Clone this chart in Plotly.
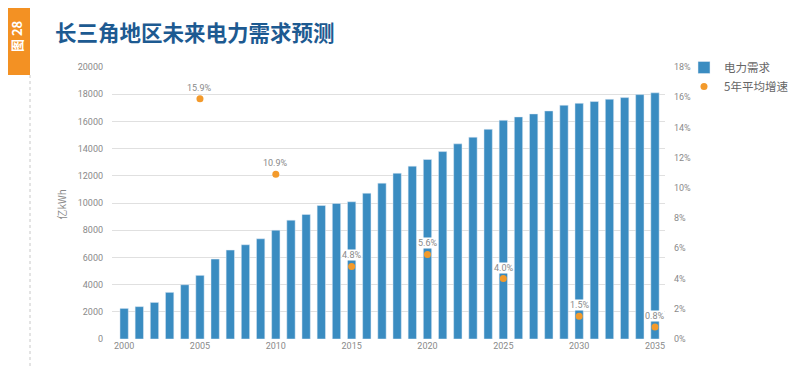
import plotly.graph_objects as go

years = list(range(2000, 2036))
demand = [2250, 2380, 2690, 3430, 3990, 4680, 5880, 6540, 6930, 7370,
          8000, 8740, 9160, 9820, 9970, 10090, 10720, 11460, 12190, 12710,
          13200, 13780, 14350, 14840, 15420, 16080, 16330, 16550, 16770, 17190,
          17330, 17460, 17630, 17750, 17970, 18100]
growth_years = [2005, 2010, 2015, 2020, 2025, 2030, 2035]
growth = [15.9, 10.9, 4.8, 5.6, 4.0, 1.5, 0.8]
growth_labels = ["15.9%", "10.9%", "4.8%", "5.6%", "4.0%", "1.5%", "0.8%"]

BLUE = "#3a8cc1"
ORANGE = "#f39a2b"
GRAY = "#8a8a8a"
FONT = "Roboto"

# page renders the figure with an 8px body margin; work in page coords and shift
OFF = 8
W, H = 800 - OFF, 371 - OFF
PL, PR, PT, PB = 112, 665, 67, 339  # plot area in page pixels
L, R, T, B = PL - OFF, W - (PR - OFF), PT - OFF, H - (PB - OFF)
pw, ph = PR - PL, PB - PT

def px(x):
    return (x - PL) / pw

def py(y):
    return (PB - y) / ph

fig = go.Figure()
fig.add_trace(go.Bar(x=years, y=demand, name="电力需求", marker_color=BLUE,
                     width=0.55, yaxis="y"))
fig.add_trace(go.Scatter(x=growth_years, y=growth, name="5年平均增速", mode="markers",
                         marker=dict(color=ORANGE, size=7, symbol="circle"), yaxis="y2"))

annotations = []
for gx, gy, gl in zip(growth_years, growth, growth_labels):
    annotations.append(dict(x=gx, y=gy, xref="x", yref="y2", text=gl, showarrow=False,
                            yshift=11, font=dict(family=FONT, size=9, color=GRAY),
                            bgcolor="white", borderpad=0))

annotations.append(dict(x=px(53), y=py(31), xref="paper", yref="paper", xanchor="left",
                        yanchor="middle", showarrow=False,
                        text="<b>长三角地区未来电力需求预测</b>",
                        font=dict(family="Noto Sans CJK SC", size=21.5, color="#1d5a91")))
annotations.append(dict(x=px(17), y=py(36), xref="paper", yref="paper", showarrow=False,
                        xanchor="center", yanchor="middle",
                        text="<b>图 28</b>", textangle=-90,
                        font=dict(family="Noto Sans CJK SC", size=13, color="white")))
annotations.append(dict(x=px(51), y=py(205), xref="paper", yref="paper", showarrow=False,
                        text="亿kWh", textangle=-90,
                        font=dict(family="Noto Sans CJK SC", size=10, color=GRAY)))

shapes = [
    dict(type="rect", xref="paper", yref="paper", x0=px(0), x1=px(30), y0=py(0), y1=py(75),
         fillcolor="#f39123", line=dict(width=0), layer="below"),
    dict(type="line", xref="paper", yref="paper", x0=px(30), x1=px(30), y0=py(75), y1=py(366),
         line=dict(color="#c8c8c8", width=1, dash="dot")),
    dict(type="line", xref="paper", yref="paper", x0=px(30), x1=px(800), y0=py(2), y1=py(2),
         line=dict(color="#c8c8c8", width=1, dash="dot")),
]

fig.update_layout(
    width=W, height=H,
    margin=dict(l=L, r=R, t=T, b=B, autoexpand=False),
    plot_bgcolor="white", paper_bgcolor="white",
    font=dict(family=FONT, color=GRAY),
    showlegend=True,
    legend=dict(x=px(684), y=py(53), xanchor="left", yanchor="top",
                font=dict(family="Noto Sans CJK SC", size=11.5, color="#666"),
                itemwidth=30, tracegroupgap=2, bgcolor="rgba(0,0,0,0)"),
    xaxis=dict(range=[1999.2, 2035.66], tickmode="array", tickvals=list(range(2000, 2036, 5)),
               showgrid=False, zeroline=False, showline=False, ticks="",
               tickfont=dict(family=FONT, size=9, color=GRAY)),
    yaxis=dict(range=[0, 20000], dtick=2000, tickformat="d", showgrid=True, gridcolor="#e0e0e0",
               zeroline=False, showline=False, ticks="", ticklabelstandoff=8,
               tickfont=dict(family=FONT, size=9, color=GRAY)),
    yaxis2=dict(range=[0, 18], dtick=2, overlaying="y", side="right", showgrid=False,
                zeroline=False, showline=False, ticks="", ticksuffix="%",
                ticklabelstandoff=8, tickfont=dict(family=FONT, size=9, color=GRAY)),
    annotations=annotations,
    shapes=shapes,
    bargap=0.4,
)

fig.write_html("out.html")
